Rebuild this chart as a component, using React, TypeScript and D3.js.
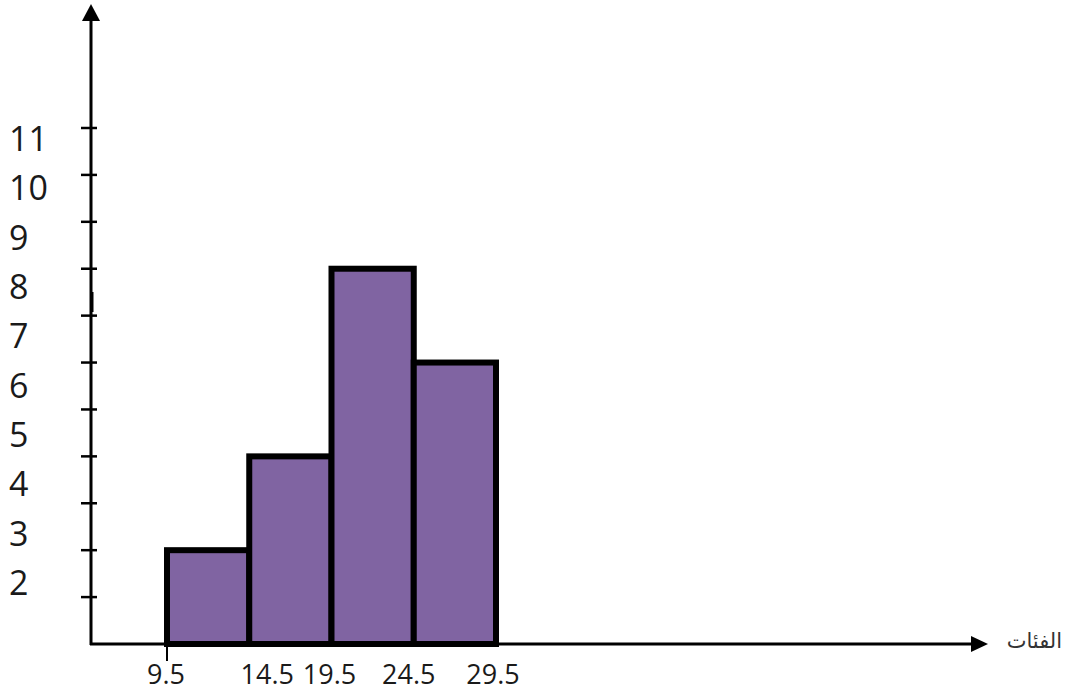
import React from "react";
import * as d3 from "d3";

const classEdges = [9.5, 14.5, 19.5, 24.5, 29.5];
const frequencies = [2, 4, 8, 6];
const yTickValues = [1, 2, 3, 4, 5, 6, 7, 8, 9, 10, 11];
const yTickLabels = ["2", "3", "4", "5", "6", "7", "8", "9", "10", "11"];
const xTickLabels = ["9.5", "14.5", "19.5", "24.5", "29.5"];
const axisTitle = "الفئات";

const W = 1069;
const H = 690;
const AX = 91;
const AY = 644;
const FILL = "#8064A2";
const FONT = "'Open Sans', 'Liberation Sans', sans-serif";
// layout nudges of the x labels as drawn in the reference
const xLabelDx = [-1, 18, -2, -5, -3];

export default function App() {
  const x = d3.scaleLinear().domain([9.5, 29.5]).range([167, 496]);
  const y = d3.scaleLinear().domain([0, 11]).range([AY, 128]);
  const yLab = d3.scaleLinear().domain([2, 11]).range([582, 138]);

  const bars = frequencies.map((f, i) => ({
    x0: x(classEdges[i]),
    x1: x(classEdges[i + 1]),
    y: y(f),
  }));

  return (
    <svg
      width={W}
      height={H}
      style={{ position: "absolute", left: 0, top: 0, background: "#fff" }}
    >
      <rect x={0} y={0} width={W} height={H} fill="#fff" />
      {bars.map((b, i) => (
        <rect
          key={i}
          x={b.x0}
          y={b.y}
          width={b.x1 - b.x0}
          height={AY - b.y}
          fill={FILL}
          stroke="#000"
          strokeWidth={6}
        />
      ))}
      <line x1={AX} y1={AY + 1} x2={AX} y2={18} stroke="#000" strokeWidth={3} />
      <path d={`M${AX},4 L${AX - 9},21 L${AX + 9},21 Z`} fill="#000" />
      <line x1={AX + 1} y1={292} x2={AX + 1} y2={312} stroke="#000" strokeWidth={3} />
      {yTickValues.map((v) => (
        <line
          key={v}
          x1={AX - 10}
          x2={AX + 6}
          y1={y(v)}
          y2={y(v)}
          stroke="#000"
          strokeWidth={2.5}
        />
      ))}
      {yTickLabels.map((t) => (
        <text
          key={t}
          x={9}
          y={yLab(+t)}
          dominantBaseline="central"
          fontFamily={FONT}
          fontSize={34}
          fill="#1a1a1a"
        >
          {t}
        </text>
      ))}
      <line x1={AX - 1} y1={AY} x2={974} y2={AY} stroke="#000" strokeWidth={3} />
      <path d={`M988,${AY} L971,${AY - 8} L971,${AY + 8} Z`} fill="#000" />
      <line x1={x(9.5)} x2={x(9.5)} y1={AY} y2={661} stroke="#000" strokeWidth={2} />
      {xTickLabels.map((t, i) => (
        <text
          key={t}
          x={x(+t) + xLabelDx[i]}
          y={673}
          textAnchor="middle"
          dominantBaseline="central"
          fontFamily={FONT}
          fontSize={27}
          fill="#1a1a1a"
        >
          {t}
        </text>
      ))}
      <text
        x={1062}
        y={641}
        textAnchor="end"
        dominantBaseline="central"
        fontFamily="'DejaVu Sans', sans-serif"
        fontSize={21}
        fill="#333"
      >
        {axisTitle}
      </text>
    </svg>
  );
}
